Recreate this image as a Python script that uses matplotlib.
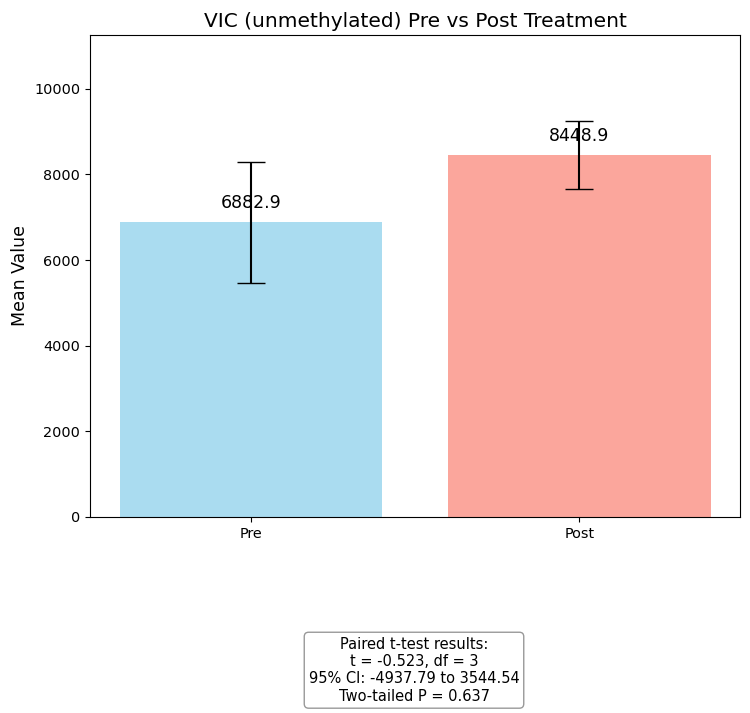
import matplotlib.pyplot as plt

groups = ["Pre", "Post"]
means = [6882.9, 8448.9]
errors = [1412.0, 794.0]
colors = ["skyblue", "salmon"]

stats_text = ("Paired t-test results:\n"
              "t = -0.523, df = 3\n"
              "95% CI: -4937.79 to 3544.54\n"
              "Two-tailed P = 0.637")

fig = plt.figure(figsize=(7.5, 7.13), dpi=100)
ax = fig.add_axes([0.12, 0.275, 0.867, 0.676])

bars = ax.bar(groups, means, yerr=errors, capsize=10, color=colors, alpha=0.7)

for bar, m in zip(bars, means):
    ax.text(bar.get_x() + bar.get_width() / 2, m + 230, f"{m:.1f}",
            ha="center", va="bottom", fontsize=12.5)

ax.set_ylim(0, 11260)
ax.set_title("VIC (unmethylated) Pre vs Post Treatment", fontsize=14.5)
ax.set_ylabel("Mean Value", fontsize=12.5)
ax.tick_params(labelsize=10.4)

fig.text(0.552, 0.06, stats_text, ha="center", va="center", fontsize=10.5,
         bbox=dict(boxstyle="round", facecolor="white", edgecolor="gray", alpha=0.8))

plt.savefig("out.png", dpi=100)
